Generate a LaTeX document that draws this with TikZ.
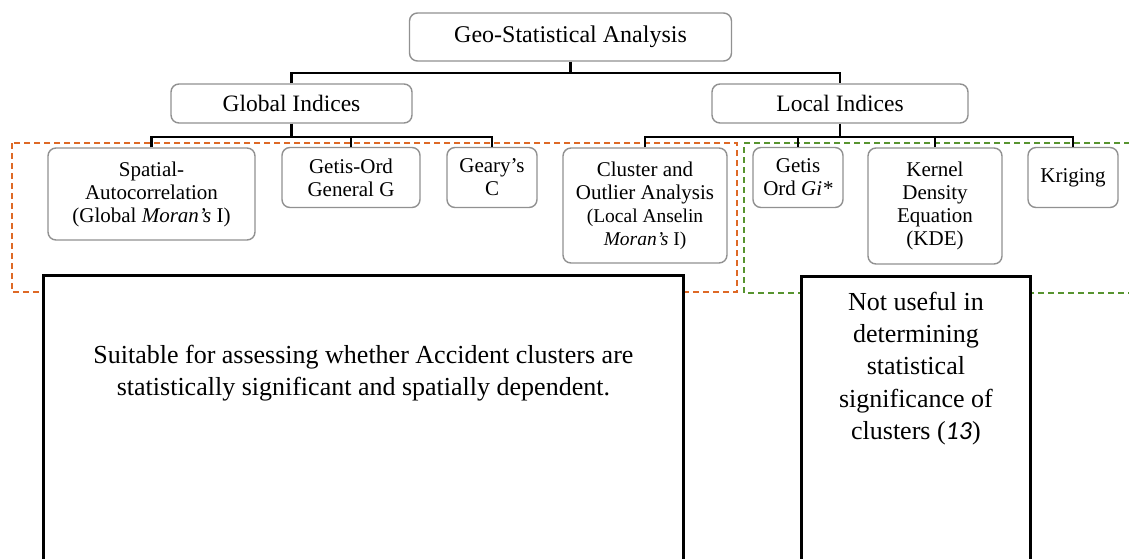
\documentclass[tikz,border=0pt]{standalone}
\usepackage{fontspec}
\setmainfont{Liberation Serif}
\newfontfamily\calfont{Carlito}
\definecolor{dorange}{RGB}{222,105,38}
\definecolor{dgreen}{RGB}{88,148,48}
\definecolor{boxgray}{RGB}{145,145,145}
\tikzset{
  rbox/.style={draw=boxgray, line width=1.4pt, rounded corners=8pt, fill=white, inner sep=0pt, align=center},
  leaf/.style={rbox, font=\fontsize{21}{23}\selectfont},
  conn/.style={draw=black, line width=2.4pt},
  bigbox/.style={draw=black, line width=2.8pt, fill=white, inner sep=0pt, anchor=north west},
  dashbox/.style={line width=2.3pt, dash pattern=on 6pt off 4pt},
  bigtext/.style={font=\fontsize{26}{32.2}\selectfont, align=center, inner sep=0pt}
}
\begin{document}
\begin{tikzpicture}[x=1pt,y=-1pt]
\useasboundingbox (0,0) rectangle (1129,558);
\clip (0,0) rectangle (1129,558);
\fill[white] (0,0) rectangle (1129,558);

% dashed group outlines
\draw[dashbox, draw=dorange] (12,143) rectangle (737,292);
\draw[dashbox, draw=dgreen] (1140,143) -- (744,143) -- (744,293) -- (1140,293);

% tree nodes
\node[rbox, minimum width=322pt, minimum height=48pt, font=\fontsize{24}{26}\selectfont] (root) at (570.5,37) {Geo-Statistical Analysis};
\node[rbox, minimum width=241pt, minimum height=39pt, font=\fontsize{23.5}{25}\selectfont] (glob) at (291.5,103.5) {Global Indices};
\node[rbox, minimum width=256pt, minimum height=39pt, font=\fontsize{23.5}{25}\selectfont] (loc) at (840,103.5) {Local Indices};

\node[leaf, minimum width=207pt, minimum height=92pt] (sa) at (151.5,194) {Spatial-\\Autocorrelation\\(Global \textit{Moran's} I)};
\node[leaf, minimum width=138pt, minimum height=60pt] (gog) at (351,177.5) {Getis-Ord\\General G};
\node[leaf, minimum width=90pt, minimum height=60pt] (gc) at (492,177.5) {Geary's\\C};
\node[leaf, minimum width=164pt, minimum height=115pt] (coa) at (645,205.5) {Cluster and\\Outlier Analysis\\{\fontsize{19.5}{21}\selectfont (Local Anselin}\\{\fontsize{19.5}{21}\selectfont\textit{Moran's} I)}};
\node[leaf, minimum width=90pt, minimum height=60pt] (goi) at (798,177.5) {Getis\\Ord \textit{Gi*}};
\node[leaf, minimum width=134pt, minimum height=116pt] (kde) at (935,206) {Kernel\\Density\\Equation\\(KDE)};
\node[leaf, minimum width=90pt, minimum height=60pt] (kr) at (1073,177.5) {Kriging};

% connectors
\coordinate (rb) at (570.5,73);
\draw[conn] (root.south) -- (rb);
\draw[conn] (glob.north) |- (rb) -| (loc.north);
\draw[conn] (glob.south) -- ++(0,13) coordinate (gb);
\draw[conn] (sa.north) |- (gb) -| (gc.north);
\draw[conn] (gog.north) -- (gog.north |- gb);
\draw[conn] (loc.south) -- ++(0,13) coordinate (lb);
\draw[conn] (coa.north) |- (lb) -| (kr.north);
\draw[conn] (goi.north) -- (goi.north |- lb);
\draw[conn] (kde.north) -- (kde.north |- lb);

% assessment boxes
\node[bigbox, minimum width=640pt, minimum height=330pt] (lbig) at (42,274) {};
\node[bigbox, minimum width=229pt, minimum height=330pt] (rbig) at (800,275) {};
\node[bigtext] (ltxt) at (lbig.north |- 0,373) {Suitable for assessing whether Accident clusters are\\statistically significant and spatially dependent.};
\node[bigtext] (rtxt) at (rbig.north |- 0,368.5) {Not useful in\\determining\\statistical\\significance of\\clusters ({\calfont\itshape 13})};
\end{tikzpicture}
\end{document}
